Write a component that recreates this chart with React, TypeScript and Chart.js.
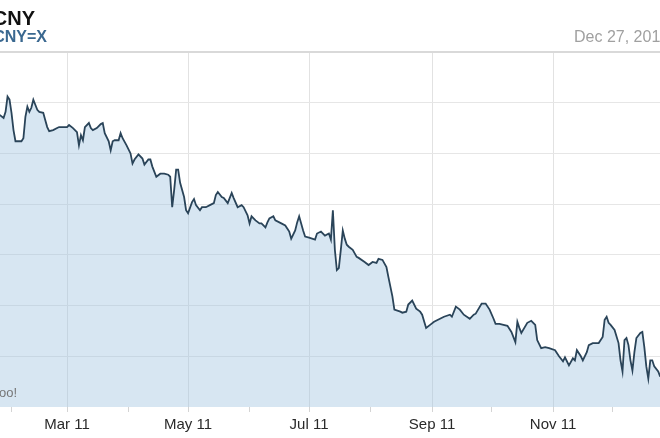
import React, { useEffect, useRef } from "react";
import { Chart, registerables } from "chart.js";

Chart.register(...registerables);

// day of year 2011 (Jan 1 = 0)
const days = [25,27,28,29,30,31,32,33,34,35,36,37,38,39,40,41,42,43,44,45,47,48,49,50,52,54,55,57,59,60,62,64,65,66,67,68,70,71,72,74,76,77,78,80,81,82,83,85,86,87,89,91,92,93,95,97,98,100,101,102,104,106,108,110,111,112,113,114,115,116,118,119,120,122,123,124,126,127,129,131,133,134,135,137,138,140,142,143,145,147,148,150,151,152,154,156,157,159,160,161,163,164,167,169,170,171,172,174,175,176,178,179,181,184,185,187,189,191,192,193,194,195,196,197,198,199,200,201,203,205,206,209,211,213,215,216,218,220,221,223,224,227,228,230,231,233,235,237,238,240,242,244,247,249,252,253,255,257,259,262,264,265,268,270,272,274,275,277,279,281,283,285,286,287,288,291,293,295,296,298,300,302,305,307,309,310,312,314,315,316,318,319,321,322,324,327,329,330,331,332,333,335,337,338,339,340,341,342,343,344,345,346,348,349,350,351,352,353,354,355,357,358,360];

const rates = [6.588,6.585,6.591,6.606,6.603,6.590,6.573,6.562,6.562,6.562,6.562,6.565,6.586,6.596,6.591,6.595,6.603,6.598,6.593,6.591,6.590,6.583,6.576,6.572,6.573,6.575,6.576,6.576,6.576,6.578,6.575,6.571,6.558,6.568,6.563,6.576,6.580,6.575,6.573,6.575,6.579,6.580,6.570,6.562,6.553,6.562,6.563,6.563,6.570,6.565,6.558,6.550,6.540,6.544,6.549,6.545,6.539,6.544,6.544,6.537,6.527,6.530,6.530,6.529,6.527,6.497,6.514,6.534,6.534,6.521,6.507,6.494,6.491,6.502,6.505,6.499,6.494,6.497,6.497,6.499,6.501,6.509,6.512,6.507,6.506,6.501,6.511,6.506,6.497,6.499,6.497,6.489,6.481,6.488,6.484,6.481,6.481,6.477,6.482,6.486,6.488,6.484,6.481,6.479,6.476,6.473,6.466,6.474,6.482,6.488,6.474,6.468,6.467,6.465,6.471,6.473,6.469,6.471,6.465,6.494,6.455,6.435,6.437,6.455,6.474,6.466,6.460,6.458,6.455,6.448,6.447,6.443,6.440,6.443,6.442,6.446,6.445,6.438,6.428,6.409,6.396,6.394,6.393,6.394,6.401,6.405,6.397,6.394,6.391,6.378,6.381,6.384,6.387,6.389,6.391,6.389,6.399,6.396,6.391,6.387,6.391,6.392,6.402,6.402,6.396,6.387,6.382,6.382,6.381,6.380,6.374,6.364,6.384,6.378,6.373,6.383,6.385,6.381,6.366,6.358,6.359,6.358,6.356,6.350,6.345,6.349,6.341,6.348,6.346,6.356,6.350,6.346,6.354,6.361,6.363,6.363,6.369,6.386,6.389,6.383,6.381,6.376,6.363,6.346,6.335,6.366,6.368,6.361,6.346,6.336,6.354,6.368,6.373,6.374,6.359,6.340,6.328,6.346,6.346,6.340,6.335,6.330,6.328];

const monthStarts = [31, 59, 90, 120, 151, 181, 212, 243, 273, 304, 334];
const monthLabels = ["", "Mar 11", "", "May 11", "", "Jul 11", "", "Sep 11", "", "Nov 11", ""];
const yTicks = [6.30, 6.35, 6.40, 6.45, 6.50, 6.55, 6.60, 6.65];

const X_MIN = 25.2;
const X_MAX = 357.9;

export default function App() {
  const ref = useRef<HTMLCanvasElement | null>(null);

  useEffect(() => {
    if (!ref.current) return;
    const chart = new Chart(ref.current, {
      type: "line",
      data: {
        datasets: [
          {
            data: days.map((d, i) => ({ x: d, y: rates[i] })),
            borderColor: "#2a4459",
            borderWidth: 1.8,
            backgroundColor: "rgba(160,195,225,0.42)",
            fill: "start",
            pointRadius: 0,
            tension: 0,
          },
        ],
      },
      options: {
        animation: false,
        responsive: false,
        maintainAspectRatio: false,
        layout: { padding: { top: 52, left: 0, right: 0, bottom: 0 } },
        plugins: { legend: { display: false }, tooltip: { enabled: false }, title: { display: false } },
        scales: {
          x: {
            type: "linear",
            min: X_MIN,
            max: X_MAX,
            afterBuildTicks: (scale: any) => {
              scale.ticks = monthStarts.map((v) => ({ value: v }));
            },
            afterFit: (scale: any) => {
              scale.height = 31;
            },
            ticks: {
              autoSkip: false,
              maxRotation: 0,
              minRotation: 0,
              padding: 4,
              color: "#2a2a2a",
              font: { family: "'Liberation Sans', Arial, sans-serif", size: 15 },
              callback: (_v: any, i: number) => monthLabels[i],
            },
            grid: {
              color: (ctx: any) => {
                const i = ctx.index;
                return monthLabels[i] ? "#e2e2e2" : "rgba(0,0,0,0)";
              },
              tickColor: "#d4d4d4",
              tickLength: 5,
              lineWidth: 1,
            },
            border: { display: false },
          },
          y: {
            type: "linear",
            min: 6.3,
            max: 6.65,
            afterBuildTicks: (scale: any) => {
              scale.ticks = yTicks.map((v) => ({ value: v }));
            },
            afterFit: (scale: any) => {
              scale.width = 0;
            },
            ticks: { display: false },
            grid: {
              drawTicks: false,
              color: (ctx: any) => {
                const v = ctx.tick ? ctx.tick.value : 0;
                if (v > 6.649) return "#d9d9d9";
                if (v < 6.301) return "rgba(0,0,0,0)";
                return "#e6e6e6";
              },
              lineWidth: (ctx: any) => (ctx.tick && ctx.tick.value > 6.649 ? 2 : 1),
            },
            border: { display: false },
          },
        },
      },
    });
    return () => chart.destroy();
  }, []);

  const font = "'Liberation Sans', Arial, Helvetica, sans-serif";

  return (
    <div
      style={{
        position: "fixed",
        left: 0,
        top: 0,
        width: 660,
        height: 438,
        overflow: "hidden",
        background: "#fff",
        fontFamily: font,
      }}
    >
      <canvas ref={ref} width={660} height={438} style={{ position: "absolute", left: 0, top: 0, width: 660, height: 438 }} />
      <div
        style={{
          position: "absolute",
          right: 625,
          top: 8,
          fontSize: 20,
          lineHeight: "20px",
          fontWeight: "bold",
          color: "#111",
          whiteSpace: "nowrap",
        }}
      >
        USD/CNY
      </div>
      <div
        style={{
          position: "absolute",
          right: 613,
          top: 29,
          fontSize: 16,
          lineHeight: "16px",
          fontWeight: "bold",
          color: "#3a6890",
          whiteSpace: "nowrap",
        }}
      >
        CNY=X
      </div>
      <div
        style={{
          position: "absolute",
          left: 574,
          top: 29,
          fontSize: 16,
          lineHeight: "16px",
          color: "#a0a0a0",
          whiteSpace: "nowrap",
        }}
      >
        Dec 27, 2011
      </div>
      <div
        style={{
          position: "absolute",
          right: 643,
          top: 386,
          fontSize: 13,
          lineHeight: "13px",
          color: "#777",
          whiteSpace: "nowrap",
        }}
      >
        © Yahoo!
      </div>
    </div>
  );
}
